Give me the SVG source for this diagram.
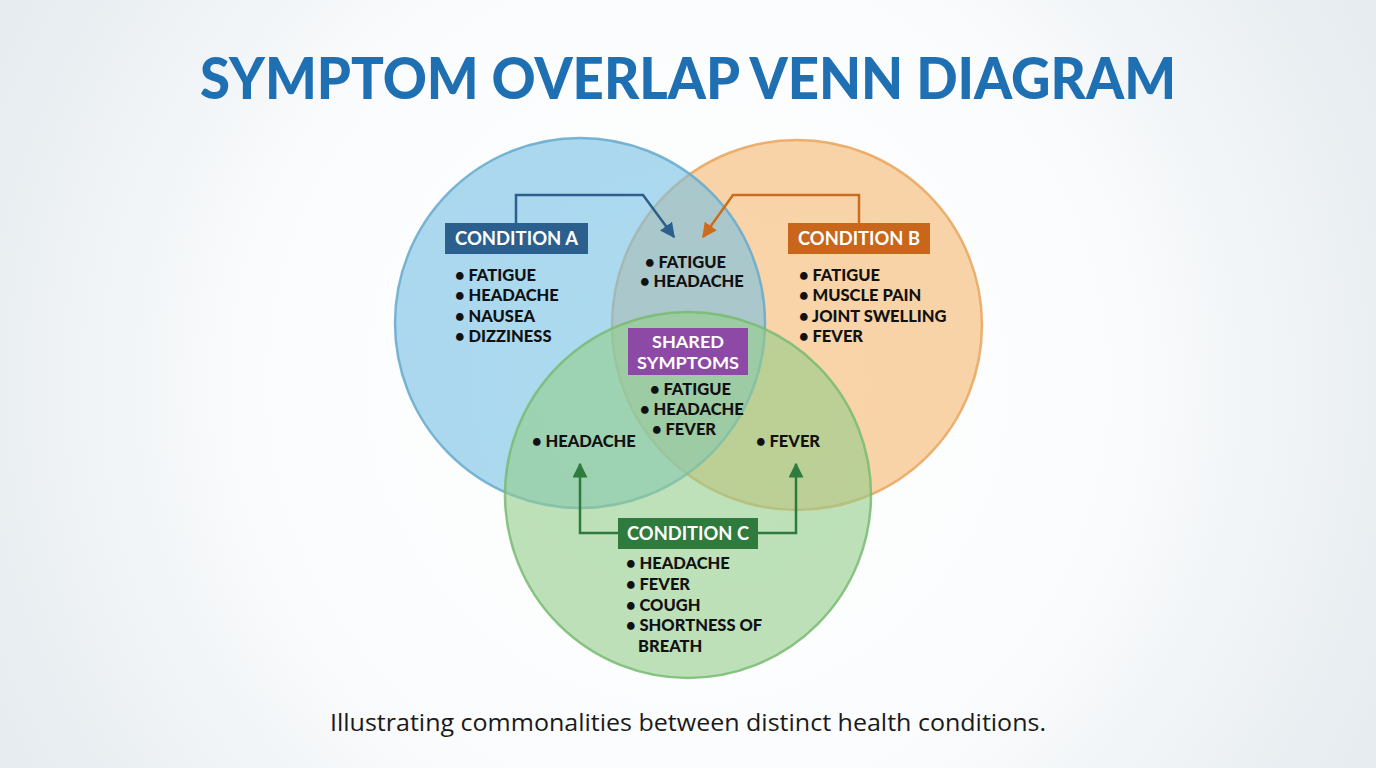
<svg xmlns="http://www.w3.org/2000/svg" width="1376" height="768" viewBox="0 0 1376 768">
<defs>
<radialGradient id="bg" cx="688" cy="384" r="760" gradientUnits="userSpaceOnUse">
<stop offset="0" stop-color="#ffffff"/>
<stop offset="0.55" stop-color="#fbfcfd"/>
<stop offset="1" stop-color="#e6ecf0"/>
</radialGradient>
<marker id="arA" viewBox="0 0 10 10" refX="9" refY="5" markerWidth="6" markerHeight="6" markerUnits="strokeWidth" orient="auto"><path d="M0,0 L10,5 L0,10 Z" fill="#2b5f8e"/></marker>
<marker id="arB" viewBox="0 0 10 10" refX="9" refY="5" markerWidth="6" markerHeight="6" markerUnits="strokeWidth" orient="auto"><path d="M0,0 L10,5 L0,10 Z" fill="#cc6d1e"/></marker>
<marker id="arC" viewBox="0 0 10 10" refX="9" refY="5" markerWidth="6" markerHeight="6" markerUnits="strokeWidth" orient="auto"><path d="M0,0 L10,5 L0,10 Z" fill="#2f7a3d"/></marker>
</defs>
<style>
.circ{fill-opacity:0.6;stroke-width:2.5;stroke-opacity:0.85}
.lbl{font-family:Lato,"Liberation Sans",sans-serif;font-weight:bold;font-size:19px;fill:#ffffff;text-anchor:middle}
.item{font-family:Lato,"Liberation Sans",sans-serif;font-weight:900;font-size:16.5px;fill:#111111}
.conn{fill:none;stroke-width:2.5}
</style>
<rect width="1376" height="768" fill="url(#bg)"/>
<text x="688" y="99" text-anchor="middle" textLength="976" lengthAdjust="spacingAndGlyphs" font-family="Lato,'Liberation Sans',sans-serif" font-weight="900" font-size="57" fill="#1f70b2">SYMPTOM OVERLAP VENN DIAGRAM</text>
<g id="circles">
<circle id="circleB" class="circ" cx="797" cy="325" r="185" fill="#f5b76e" stroke="#e9a55c"/>
<circle id="circleA" class="circ" cx="580" cy="323" r="185" fill="#75c0e3" stroke="#66a9cd"/>
<circle id="circleC" class="circ" cx="688" cy="495" r="183" fill="#92cd8b" stroke="#78bb72"/>
</g>
<g id="connectors">
<path class="conn" d="M516,223 V195 H643 L674,237" stroke="#2b5f8e" marker-end="url(#arA)"/>
<path class="conn" d="M859,223 V195 H733 L703,237" stroke="#cc6d1e" marker-end="url(#arB)"/>
<path class="conn" d="M618,533 H580 V464" stroke="#2f7a3d" marker-end="url(#arC)"/>
<path class="conn" d="M758,533 H796 V464" stroke="#2f7a3d" marker-end="url(#arC)"/>
</g>
<g id="conditionA">
<rect x="445" y="223" width="143" height="31" fill="#2b5f8e"/>
<text class="lbl" x="516.5" y="245" textLength="123" lengthAdjust="spacingAndGlyphs">CONDITION A</text>
<text class="item" x="455" y="281">• FATIGUE</text>
<text class="item" x="455" y="301">• HEADACHE</text>
<text class="item" x="455" y="322">• NAUSEA</text>
<text class="item" x="455" y="342">• DIZZINESS</text>
</g>
<g id="conditionB">
<rect x="788" y="223" width="142" height="31" fill="#c8671c"/>
<text class="lbl" x="859" y="245" textLength="122" lengthAdjust="spacingAndGlyphs">CONDITION B</text>
<text class="item" x="799" y="281">• FATIGUE</text>
<text class="item" x="799" y="301">• MUSCLE PAIN</text>
<text class="item" x="799" y="322">• JOINT SWELLING</text>
<text class="item" x="799" y="342">• FEVER</text>
</g>
<g id="overlapAB">
<text class="item" x="645" y="268">• FATIGUE</text>
<text class="item" x="640" y="287">• HEADACHE</text>
</g>
<g id="shared">
<rect x="628" y="328" width="120" height="47" fill="#8c4aa6"/>
<text class="lbl" x="688" y="348" style="font-size:17.5px" textLength="72" lengthAdjust="spacingAndGlyphs">SHARED</text>
<text class="lbl" x="688" y="369" style="font-size:17.5px" textLength="102" lengthAdjust="spacingAndGlyphs">SYMPTOMS</text>
<text class="item" x="650" y="395">• FATIGUE</text>
<text class="item" x="640" y="415">• HEADACHE</text>
<text class="item" x="652" y="435">• FEVER</text>
</g>
<g id="overlapAC">
<text class="item" x="532" y="447">• HEADACHE</text>
</g>
<g id="overlapBC">
<text class="item" x="756" y="447">• FEVER</text>
</g>
<g id="conditionC">
<rect x="618" y="518" width="140" height="31" fill="#2f7a3d"/>
<text class="lbl" x="688" y="540" textLength="122" lengthAdjust="spacingAndGlyphs">CONDITION C</text>
<text class="item" x="626" y="569">• HEADACHE</text>
<text class="item" x="626" y="590">• FEVER</text>
<text class="item" x="626" y="611">• COUGH</text>
<text class="item" x="626" y="631">• SHORTNESS OF</text>
<text class="item" x="638" y="652">BREATH</text>
</g>
<text x="688" y="731" text-anchor="middle" textLength="716" lengthAdjust="spacingAndGlyphs" font-family="'Open Sans','Liberation Sans',sans-serif" font-size="23" fill="#1a1a1a">Illustrating commonalities between distinct health conditions.</text>
</svg>
